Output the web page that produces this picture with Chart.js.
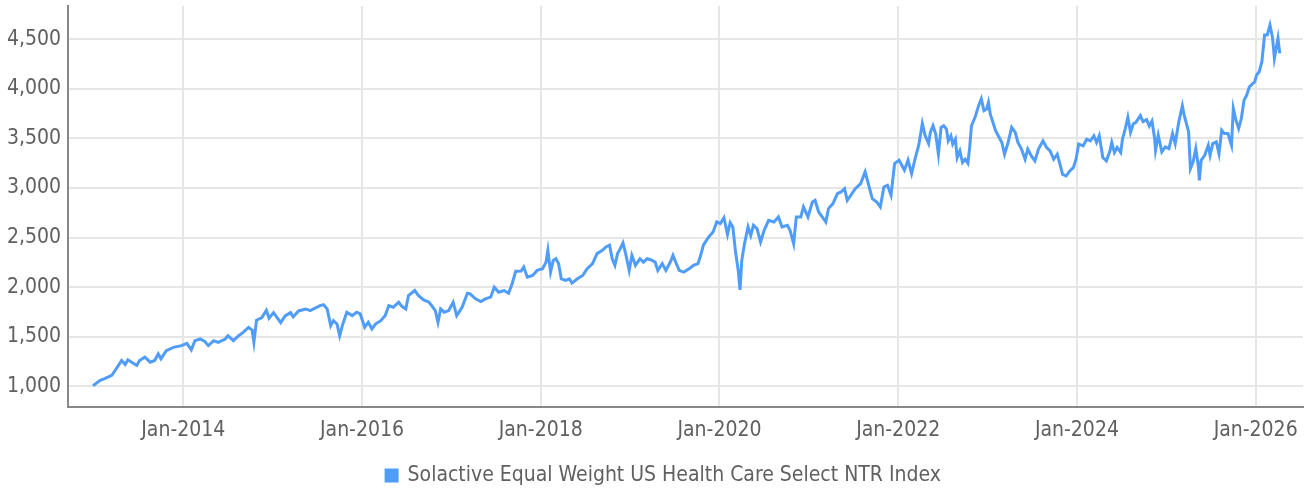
<!DOCTYPE html>
<html>
<head>
<meta charset="utf-8">
<script src="https://cdn.jsdelivr.net/npm/chart.js@4.4.1/dist/chart.umd.min.js"></script>
<style>
  html, body { margin: 0; padding: 0; background: #fff; }
  .chart-wrapper { width: 1312px; height: 491px; }
</style>
</head>
<body>
<div class="chart-wrapper"><canvas id="mainChart"></canvas></div>
<script>
// dates as decimal years
const dates = [
  2012.99, 2013.07, 2013.12, 2013.20, 2013.25, 2013.31, 2013.35, 2013.38, 2013.44, 2013.48,
  2013.51, 2013.57, 2013.63, 2013.68, 2013.72, 2013.75, 2013.81, 2013.89, 2013.98, 2014.04,
  2014.09, 2014.13, 2014.19, 2014.24, 2014.28, 2014.34, 2014.39, 2014.47, 2014.50, 2014.56,
  2014.62, 2014.67, 2014.73, 2014.77, 2014.79, 2014.82, 2014.88, 2014.93, 2014.96, 2015.01,
  2015.05, 2015.09, 2015.14, 2015.20, 2015.23, 2015.29, 2015.37, 2015.42, 2015.48, 2015.53,
  2015.57, 2015.61, 2015.65, 2015.68, 2015.72, 2015.75, 2015.78, 2015.83, 2015.89, 2015.94,
  2015.98, 2016.03, 2016.07, 2016.11, 2016.15, 2016.21, 2016.26, 2016.30, 2016.35, 2016.41,
  2016.45, 2016.49, 2016.52, 2016.59, 2016.63, 2016.69, 2016.75, 2016.78, 2016.82, 2016.85,
  2016.88, 2016.92, 2016.97, 2017.02, 2017.06, 2017.12, 2017.18, 2017.21, 2017.27, 2017.33,
  2017.38, 2017.44, 2017.48, 2017.53, 2017.59, 2017.64, 2017.68, 2017.72, 2017.78, 2017.81,
  2017.85, 2017.91, 2017.96, 2018.02, 2018.06, 2018.08, 2018.11, 2018.14, 2018.17, 2018.20,
  2018.23, 2018.28, 2018.32, 2018.35, 2018.41, 2018.47, 2018.52, 2018.58, 2018.63, 2018.69,
  2018.73, 2018.77, 2018.80, 2018.83, 2018.86, 2018.89, 2018.92, 2018.95, 2018.99, 2019.02,
  2019.06, 2019.11, 2019.15, 2019.19, 2019.23, 2019.28, 2019.31, 2019.36, 2019.40, 2019.45,
  2019.48, 2019.51, 2019.55, 2019.60, 2019.66, 2019.71, 2019.76, 2019.79, 2019.82, 2019.88,
  2019.93, 2019.97, 2020.01, 2020.05, 2020.09, 2020.12, 2020.15, 2020.18, 2020.21, 2020.23,
  2020.25, 2020.28, 2020.32, 2020.35, 2020.38, 2020.42, 2020.46, 2020.50, 2020.55, 2020.61,
  2020.66, 2020.70, 2020.76, 2020.79, 2020.83, 2020.86, 2020.91, 2020.94, 2020.99, 2021.04,
  2021.07, 2021.11, 2021.15, 2021.19, 2021.22, 2021.27, 2021.32, 2021.36, 2021.40, 2021.43,
  2021.47, 2021.52, 2021.58, 2021.63, 2021.67, 2021.71, 2021.76, 2021.80, 2021.84, 2021.88,
  2021.92, 2021.96, 2022.01, 2022.04, 2022.07, 2022.11, 2022.15, 2022.19, 2022.23, 2022.27,
  2022.30, 2022.34, 2022.36, 2022.39, 2022.42, 2022.45, 2022.48, 2022.51, 2022.54, 2022.56,
  2022.59, 2022.61, 2022.64, 2022.66, 2022.69, 2022.72, 2022.75, 2022.78, 2022.80, 2022.82,
  2022.86, 2022.90, 2022.93, 2022.96, 2022.99, 2023.01, 2023.03, 2023.06, 2023.09, 2023.12,
  2023.16, 2023.19, 2023.23, 2023.27, 2023.31, 2023.34, 2023.38, 2023.42, 2023.45, 2023.49,
  2023.53, 2023.57, 2023.62, 2023.66, 2023.70, 2023.74, 2023.78, 2023.81, 2023.84, 2023.88,
  2023.92, 2023.96, 2023.99, 2024.02, 2024.07, 2024.11, 2024.15, 2024.19, 2024.22, 2024.25,
  2024.29, 2024.33, 2024.37, 2024.39, 2024.42, 2024.45, 2024.49, 2024.51, 2024.54, 2024.57,
  2024.60, 2024.63, 2024.66, 2024.71, 2024.74, 2024.78, 2024.81, 2024.84, 2024.87, 2024.88,
  2024.91, 2024.95, 2024.99, 2025.03, 2025.07, 2025.10, 2025.14, 2025.18, 2025.20, 2025.23,
  2025.25, 2025.27, 2025.30, 2025.33, 2025.36, 2025.37, 2025.39, 2025.43, 2025.47, 2025.49,
  2025.52, 2025.56, 2025.59, 2025.62, 2025.65, 2025.69, 2025.73, 2025.75, 2025.78, 2025.81,
  2025.84, 2025.87, 2025.90, 2025.93, 2025.95, 2025.99, 2026.01, 2026.04, 2026.07, 2026.10,
  2026.13, 2026.16, 2026.19, 2026.21, 2026.23, 2026.25, 2026.27
];

const values = [
  1005, 1060, 1077, 1110, 1177, 1260, 1220, 1267, 1233, 1210,
  1260, 1293, 1243, 1260, 1327, 1277, 1360, 1393, 1410, 1433,
  1367, 1460, 1477, 1453, 1410, 1460, 1443, 1477, 1510, 1460,
  1510, 1543, 1593, 1567, 1443, 1667, 1693, 1767, 1687, 1743,
  1693, 1643, 1710, 1743, 1700, 1760, 1780, 1764, 1790, 1814,
  1824, 1780, 1612, 1662, 1628, 1510, 1612, 1747, 1713, 1747,
  1730, 1595, 1645, 1578, 1628, 1662, 1713, 1814, 1797, 1848,
  1804, 1780, 1916, 1966, 1916, 1872, 1848, 1814, 1764, 1645,
  1780, 1747, 1764, 1848, 1713, 1797, 1939, 1932, 1882, 1855,
  1882, 1899, 2000, 1949, 1966, 1939, 2034, 2160, 2162, 2203,
  2101, 2118, 2169, 2186, 2253, 2372, 2152, 2270, 2287, 2237,
  2084, 2068, 2084, 2041, 2084, 2118, 2186, 2237, 2338, 2372,
  2406, 2423, 2287, 2220, 2338, 2389, 2446, 2338, 2169, 2321,
  2220, 2287, 2253, 2287, 2277, 2253, 2169, 2237, 2169, 2253,
  2321, 2253, 2169, 2152, 2186, 2220, 2237, 2321, 2423, 2507,
  2558, 2659, 2642, 2700, 2530, 2650, 2607, 2354, 2169, 1973,
  2270, 2438, 2607, 2522, 2624, 2590, 2455, 2573, 2674, 2657,
  2708, 2607, 2624, 2573, 2438, 2708, 2708, 2809, 2708, 2859,
  2876, 2758, 2708, 2657, 2792, 2843, 2944, 2960, 2994, 2876,
  2927, 2994, 3045, 3163, 3028, 2893, 2859, 2809, 3011, 3028,
  2927, 3247, 3281, 3230, 3180, 3281, 3146, 3298, 3432, 3651,
  3533, 3449, 3561, 3628, 3544, 3341, 3612, 3628, 3595, 3476,
  3527, 3443, 3493, 3307, 3375, 3257, 3290, 3250, 3409, 3628,
  3713, 3831, 3899, 3781, 3797, 3865, 3747, 3662, 3578, 3527,
  3459, 3341, 3459, 3612, 3561, 3459, 3392, 3290, 3392, 3324,
  3274, 3392, 3476, 3409, 3375, 3290, 3341, 3240, 3138, 3122,
  3172, 3206, 3290, 3443, 3426, 3493, 3476, 3527, 3459, 3527,
  3307, 3274, 3375, 3459, 3358, 3409, 3358, 3493, 3595, 3713,
  3561, 3645, 3662, 3730, 3670, 3690, 3625, 3674, 3499, 3381,
  3532, 3364, 3415, 3398, 3549, 3448, 3667, 3829, 3735, 3634,
  3566, 3195, 3263, 3398, 3212, 3078, 3280, 3330, 3431, 3330,
  3448, 3465, 3347, 3583, 3549, 3549, 3431, 3802, 3684, 3600,
  3701, 3886, 3937, 4021, 4038, 4072, 4139, 4173, 4274, 4543,
  4543, 4644, 4510, 4308, 4408, 4510, 4358
];

const xTickYears = [2014, 2016, 2018, 2020, 2022, 2024, 2026];
const yTickValues = [1000, 1500, 2000, 2500, 3000, 3500, 4000, 4500];
const seriesName = 'Solactive Equal Weight US Health Care Select NTR Index';

const points = dates.map((d, i) => ({ x: d, y: values[i] }));
const fontFamily = "'Liberation Sans Narrow', 'DejaVu Sans Condensed', sans-serif";
const tickFont = { family: fontFamily, size: 21 };

// nudge the legend a little right and down, like the original
const legendShift = {
  id: 'legendShift',
  afterLayout(chart) {
    const lg = chart.legend;
    lg.left += 12;
    lg.right += 12;
    lg.top += 5;
    lg.bottom += 5;
  }
};

new Chart(document.getElementById('mainChart'), {
  type: 'line',
  data: {
    datasets: [{
      label: seriesName,
      data: points,
      borderColor: '#4f9cf9',
      backgroundColor: '#4f9cf9',
      borderWidth: 3,
      pointRadius: 0,
      tension: 0,
      fill: false
    }]
  },
  plugins: [legendShift],
  options: {
    responsive: true,
    maintainAspectRatio: false,
    animation: false,
    layout: { padding: { top: 6, right: 9, left: 0, bottom: 0 } },
    plugins: {
      legend: {
        display: true,
        position: 'bottom',
        labels: {
          boxWidth: 11,
          boxHeight: 11,
          color: '#606060',
          font: tickFont,
          padding: 5
        }
      },
      tooltip: { enabled: false }
    },
    scales: {
      x: {
        type: 'linear',
        min: 2012.71,
        max: 2026.53,
        afterBuildTicks: axis => { axis.ticks = xTickYears.map(v => ({ value: v })); },
        afterFit: axis => {
          axis.height = 48;
          axis.paddingLeft = 0;
          axis.paddingRight = 0;
        },
        ticks: {
          color: '#606060',
          font: tickFont,
          padding: 11,
          maxRotation: 0,
          callback: v => 'Jan-' + v
        },
        grid: { color: '#e6e6e6', lineWidth: 2, drawTicks: false },
        border: { color: '#888', width: 2 }
      },
      y: {
        min: 791,
        max: 4836,
        afterBuildTicks: axis => { axis.ticks = yTickValues.map(v => ({ value: v })); },
        afterFit: axis => {
          axis.width = 68;
          axis.paddingTop = 0;
          axis.paddingBottom = 0;
        },
        ticks: {
          color: '#606060',
          font: tickFont,
          padding: 7,
          callback: v => v.toLocaleString('en-US')
        },
        grid: { color: '#e6e6e6', lineWidth: 2, drawTicks: false },
        border: { color: '#888', width: 2 }
      }
    }
  }
});
</script>
</body>
</html>
